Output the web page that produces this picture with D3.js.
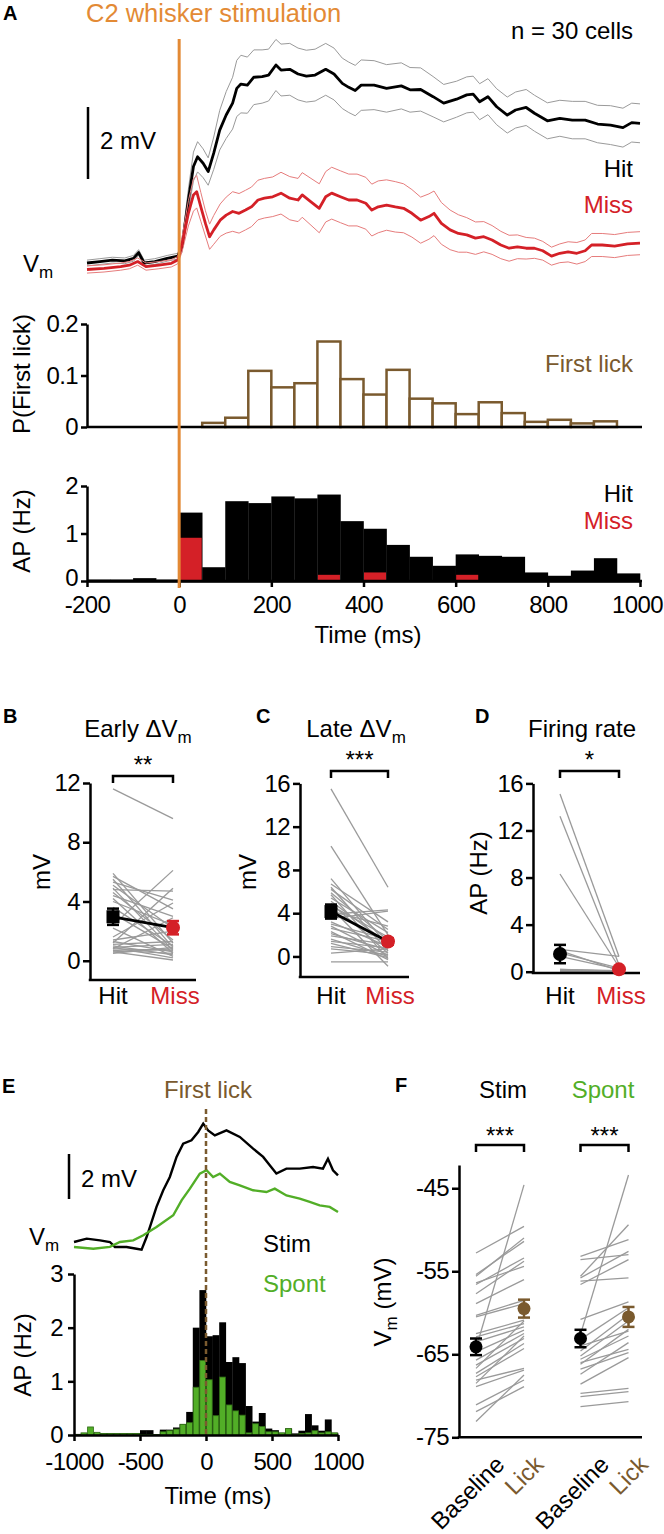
<!DOCTYPE html>
<html><head><meta charset="utf-8">
<script src="https://cdn.jsdelivr.net/npm/d3@7"></script>
<style>
body{margin:0;background:#fff}
svg{display:block;font-family:"Liberation Sans",Arial,Helvetica,sans-serif}
</style></head><body>
<svg id="fig" width="664" height="1534"></svg>
<script>
// ---------------- DATA ----------------
// Panel A: Vm traces (time ms, mV relative to baseline, SEM)
const hitT = [-200,-172,-145,-118,-99,-88,-76,-53,-26,-3,6,20,31,40,52,63,75,88,102,116,125,134,148,162,180,194,210,221,240,258,276,295,318,336,354,368,382,395,423,450,482,501,524,551,574,602,624,638,652,670,689,712,730,753,771,799,826,853,881,908,936,963,982,1000];
const hitV = [0,0.04,0.08,0.06,0.13,0.29,0,0.04,0.13,0.19,0.45,1.75,2.68,2.95,2.77,2.54,3.05,3.69,4.11,4.44,4.85,4.97,4.94,5.16,5.18,5.22,5.5,5.36,5.38,5.25,5.19,5.22,5.38,5.25,4.99,4.88,4.79,4.94,4.94,4.85,4.92,4.81,4.82,4.62,4.44,4.55,4.67,4.69,4.48,4.62,4.34,4.11,4.25,4.32,4.16,3.95,4.02,3.97,3.97,3.86,3.83,3.76,3.9,3.88];
const hitSem = [0.08,0.08,0.08,0.08,0.08,0.08,0.08,0.08,0.08,0.08,0.15,0.3,0.4,0.42,0.4,0.38,0.45,0.55,0.65,0.72,0.78,0.8,0.78,0.76,0.74,0.72,0.71,0.72,0.72,0.72,0.72,0.72,0.72,0.72,0.7,0.7,0.7,0.7,0.68,0.66,0.64,0.62,0.6,0.56,0.52,0.5,0.5,0.5,0.5,0.5,0.5,0.5,0.5,0.5,0.5,0.5,0.5,0.52,0.52,0.52,0.54,0.54,0.54,0.54];
const missT = [-200,-163,-127,-108,-90,-72,-44,-17,-3,6,20,31,38,47,57,66,75,89,102,116,130,144,157,171,185,203,221,240,258,267,286,304,318,331,350,368,386,405,418,432,450,469,487,505,524,542,553,569,588,606,624,643,661,679,698,716,734,753,771,789,808,826,844,863,881,895,918,945,973,1000];
const missV = [-0.18,-0.15,-0.1,-0.06,0.04,-0.1,-0.06,-0.01,0.08,0.5,1.38,1.89,1.98,1.56,1.1,0.73,0.92,1.19,1.33,1.43,1.38,1.47,1.56,1.75,1.8,1.84,1.94,1.8,1.75,1.89,1.7,1.52,1.84,1.94,1.84,1.75,1.75,1.66,1.47,1.56,1.61,1.56,1.52,1.38,1.19,1.29,1.38,1.1,0.92,0.82,0.78,0.69,0.73,0.64,0.5,0.41,0.45,0.41,0.41,0.34,0.19,0.27,0.31,0.27,0.34,0.5,0.5,0.47,0.53,0.55];
const missSem = [0.1,0.1,0.1,0.1,0.1,0.1,0.1,0.1,0.1,0.2,0.35,0.45,0.45,0.4,0.35,0.35,0.4,0.45,0.5,0.55,0.55,0.55,0.55,0.55,0.55,0.55,0.58,0.6,0.6,0.62,0.65,0.68,0.7,0.72,0.72,0.72,0.72,0.72,0.72,0.72,0.7,0.7,0.68,0.66,0.64,0.63,0.62,0.58,0.55,0.52,0.48,0.45,0.42,0.4,0.38,0.36,0.33,0.3,0.28,0.26,0.25,0.26,0.28,0.3,0.3,0.32,0.32,0.32,0.32,0.32];

// Panel A: first-lick probability (bin start ms) and AP rate histograms
const lickBins = [50,100,150,200,250,300,350,400,450,500,550,600,650,700,750,800,850,900];
const lickP = [0.008,0.018,0.109,0.077,0.085,0.166,0.093,0.063,0.111,0.055,0.046,0.025,0.048,0.027,0.010,0.014,0.007,0.011];
const apBinsA = [-200,-150,-100,-50,0,50,100,150,200,250,300,350,400,450,500,550,600,650,700,750,800,850,900,950];
const hitAP = [0.03,0.03,0.06,0.03,1.44,0.29,1.68,1.64,1.78,1.74,1.82,1.26,1.10,0.76,0.51,0.32,0.56,0.53,0.51,0.18,0.11,0.22,0.48,0.16];
const missAP = [0,0,0,0,0.91,0,0,0,0,0,0.13,0,0.18,0,0,0,0.13,0,0,0,0,0,0,0];
const timeTicksA = [-200,0,200,400,600,800,1000];
const lickTicks = [0,0.1,0.2];
const apTicksA = [0,1,2];

// Panels B-D: per-cell values (Hit, Miss) and means
const groups = ['Hit','Miss'];
const earlyHit  = [11.6,5.9,5.7,5.5,5.3,5.1,4.9,4.8,4.6,4.4,4.2,4.0,3.6,3.2,2.4,2.2,1.6,1.4,1.3,1.2,1.1,1.0,0.9,0.9,0.8,0.8,0.7,0.6,0.6,0.5];
const earlyMiss = [9.6,1.2,3.5,0.9,4.1,2.2,0.7,4.7,1.4,3.0,0.5,2.4,1.0,0.8,6.1,0.3,3.9,2.0,0.6,4.9,1.3,0.4,1.1,0.2,0.7,2.9,0.5,0.05,0.8,0.9];
const earlyMean = [2.97,2.23], earlySem = [0.55,0.45];
const lateHit  = [15.5,10.2,7.2,6.7,6.4,6.2,5.9,5.7,5.4,5.1,4.9,4.7,4.5,4.2,3.9,3.5,3.2,3.0,2.8,2.6,2.3,2.1,1.9,1.6,1.4,1.2,0.9,0.7,0.3,-0.5];
const lateMiss = [6.4,2.0,1.0,3.2,0.5,2.5,1.5,-0.2,2.2,1.2,0.3,1.8,-0.9,2.8,4.3,4.2,0.9,1.6,0.1,1.4,-0.3,0.6,1.1,0.0,0.8,-0.1,0.4,0.2,0.7,-0.5];
const lateMean = [4.15,1.38], lateSem = [0.65,0.3];
const frHit  = [15.1,13.2,8.3,1.9,1.8,1.6,1.3,0.2,0.2,0.15,0.15,0.1,0.1,0.1,0.1,0.1,0.05,0.05,0.05,0.05,0.05,0.05,0,0,0,0,0,0,0,0];
const frMiss = [1.3,0.6,0.4,1.3,0.1,0.3,0.2,0.05,0.1,0,0.05,0,0,0.05,0,0,0,0.05,0,0,0,0,0,0,0,0,0,0,0,0];
const frMean = [1.5,0.2], frSem = [0.78,0.1];
const earlyTicks = [0,4,8,12], lateTicks = [0,4,8,12,16], frTicks = [0,4,8,12,16];

// Panel E: Vm aligned to first lick, AP histograms
const stimT = [-1000,-904,-803,-728,-690,-602,-526,-488,-450,-412,-375,-324,-274,-223,-173,-110,-59,-21,16,67,155,256,357,433,483,533,609,710,811,886,924,962,1000];
const stimV = [0,0.15,0.07,0,-0.22,-0.22,-0.3,-0.34,0.22,0.89,1.56,2.3,2.89,3.78,4.37,4.52,4.89,5.26,4.96,4.74,4.96,4.67,4.15,3.78,3.41,3.04,3.26,3.26,3.33,3.26,3.7,3.19,2.96];
const spontT = [-1000,-854,-728,-652,-551,-475,-375,-248,-185,-122,-47,4,54,105,180,256,357,458,521,609,710,786,861,937,1000];
const spontV = [-0.22,-0.3,-0.22,0,0.07,0.3,0.67,1.19,1.85,2.37,3.04,3.19,2.89,3.04,2.67,2.52,2.3,2.22,2.37,2.07,1.93,1.78,1.63,1.56,1.33];
const apBinsE = d3.range(-1000, 1000, 50);
const stimAP  = [0.02,0.02,0.03,0.03,0.03,0.03,0.03,0.03,0.03,0.03,0.09,0.09,0.01,0.1,0.1,0.14,0.2,0.43,2.0,2.7,1.84,1.86,2.1,1.36,1.45,1.34,0.54,0.25,0.41,0.12,0.09,0.04,0.12,0.03,0.08,0.39,0.18,0.08,0.29,0.04];
const spontAP = [0.01,0.04,0.15,0.05,0.03,0.03,0.03,0.03,0.03,0.03,0.01,0.01,0.01,0.06,0.08,0.11,0.2,0.23,0.89,1.39,1.03,0.36,1.08,0.56,0.45,0.37,0.04,0.21,0.16,0.06,0.06,0.04,0.12,0.01,0.03,0.04,0.08,0.04,0.06,0.04];
const timeTicksE = [-1000,-500,0,500,1000];
const apTicksE = [0,1,2,3];

// Panel F: Vm baseline vs lick
const condF = ['Stim','Spont'], epochF = ['Baseline','Lick'];
const stimBase = [-52.8,-55.4,-55.6,-56.4,-56.6,-57.7,-58.9,-60.3,-60.5,-62.5,-62.9,-63.5,-64.3,-64.7,-65.7,-66.3,-66.7,-67.3,-67.7,-68.1,-68.5,-68.9,-71.1,-71.9,-73.1];
const stimLick = [-49.6,-51.4,-51.0,-54.4,-53.4,-53.8,-56.0,-58.5,-58.9,-60.9,-61.3,-61.7,-44.6,-62.1,-62.5,-63.1,-61.0,-63.7,-64.3,-66.7,-62.8,-66.9,-68.1,-68.9,-67.5];
const spontBase = [-53.2,-53.6,-55.6,-55.8,-56.2,-56.6,-60.8,-62.6,-63.2,-64.0,-64.6,-65.2,-65.6,-66.0,-66.2,-66.8,-67.4,-68.6,-69.7,-70.1,-71.3];
const spontLick = [-51.2,-53.0,-49.4,-52.6,-55.8,-53.6,-58.7,-43.4,-59.4,-62.2,-60.2,-61.0,-62.8,-64.4,-62.0,-64.8,-63.6,-65.4,-69.1,-69.5,-70.7];
const fMean = {Stim:[-64.1,-59.5], Spont:[-63.1,-60.5]};
const fSem  = {Stim:[1.0,1.08], Spont:[1.05,1.2]};
const fTicks = [-45,-55,-65,-75];

// ---------------- STYLE ----------------
const FONT = '"Liberation Sans", Arial, Helvetica, sans-serif';
const COL = {orange:'#e38a35', red:'#d42027', brown:'#7a5a2e', green:'#52ae27', greenDark:'#2e6a14', gray:'#9a9a9a', semGray:'#9a9a9a', semRed:'#e67c7c'};
const AXW = 2.5;
const svg = d3.select('#fig');

function label(x, y, parts, o = {}) {
  const t = svg.append('text').attr('x', x).attr('y', y)
    .attr('font-size', o.size || 24).attr('fill', o.color || '#000')
    .attr('font-weight', o.weight || 'normal').attr('text-anchor', o.anchor || 'start')
    .attr('font-family', FONT);
  if (o.rotate != null) t.attr('transform', `rotate(${o.rotate},${x},${y})`);
  if (typeof parts === 'string') { t.text(parts); return t; }
  let sub = false;
  parts.forEach(p => {
    if (typeof p === 'string') {
      t.append('tspan').attr('dy', sub ? -6 : 0).text(p); sub = false;
    } else {
      t.append('tspan').attr('dy', 6).attr('font-size', 17).text(p.sub); sub = true;
    }
  });
  return t;
}
function styleAxis(g) {
  g.attr('font-family', FONT).attr('font-size', 24);
  g.selectAll('.domain').attr('stroke', '#000').attr('stroke-width', AXW);
  g.selectAll('.tick line').attr('stroke', '#000').attr('stroke-width', AXW);
  g.selectAll('.tick text').attr('fill', '#000').attr('font-size', 24).attr('font-family', FONT).attr('letter-spacing', -0.6);
}
function hline(x1, x2, y, w = AXW, c = '#000') {
  svg.append('line').attr('x1', x1).attr('x2', x2).attr('y1', y).attr('y2', y).attr('stroke', c).attr('stroke-width', w);
}
function vline(x, y1, y2, w = AXW, c = '#000') {
  svg.append('line').attr('x1', x).attr('x2', x).attr('y1', y1).attr('y2', y2).attr('stroke', c).attr('stroke-width', w);
}
const fmt = d => String(d);

// ---------------- PANEL A ----------------
const xA = d3.scaleLinear().domain([-200, 1000]).range([87, 640]);
const yV = d3.scaleLinear().domain([0, 5]).range([263, 83]);
const lineA = d3.line().x(d => xA(d[0])).y(d => yV(d[1]));
const tr = (T, V, S, k) => T.map((t, i) => [t, V[i] + (S ? k * S[i] : 0)]);

[1, -1].forEach(k => svg.append('path').attr('d', lineA(tr(hitT, hitV, hitSem, k)))
  .attr('fill', 'none').attr('stroke', COL.semGray).attr('stroke-width', 1));
svg.append('path').attr('d', lineA(tr(hitT, hitV))).attr('fill', 'none').attr('stroke', '#000').attr('stroke-width', 2.8).attr('stroke-linejoin', 'round');
[1, -1].forEach(k => svg.append('path').attr('d', lineA(tr(missT, missV, missSem, k)))
  .attr('fill', 'none').attr('stroke', COL.semRed).attr('stroke-width', 1));
svg.append('path').attr('d', lineA(tr(missT, missV))).attr('fill', 'none').attr('stroke', COL.red).attr('stroke-width', 2.8).attr('stroke-linejoin', 'round');

// scale bar 2 mV
vline(88, 107, 107 + (yV(0) - yV(2)));
label(100, 149, '2 mV');
label(23, 272, ['V', {sub: 'm'}]);
label(633, 177, 'Hit', {anchor: 'end'});
label(633, 213, 'Miss', {anchor: 'end', color: COL.red});
label(633, 39, 'n = 30 cells', {anchor: 'end'});
label(86, 22, 'C2 whisker stimulation', {color: COL.orange, size: 25.5});
label(3, 20, 'A', {weight: 'bold', size: 20});

// First-lick histogram
const yL = d3.scaleLinear().domain([0, 0.2]).range([427, 324]);
svg.append('g').selectAll('rect').data(lickBins).join('rect')
  .attr('x', d => xA(d)).attr('width', d => xA(d + 50) - xA(d))
  .attr('y', (d, i) => yL(lickP[i])).attr('height', (d, i) => yL(0) - yL(lickP[i]))
  .attr('fill', '#fff').attr('stroke', COL.brown).attr('stroke-width', 2.5);
hline(87, 642, 427);
styleAxis(svg.append('g').attr('transform', 'translate(87,0)')
  .call(d3.axisLeft(yL).tickValues(lickTicks).tickSize(6).tickPadding(3).tickSizeOuter(0).tickFormat(fmt)));
label(30, 374, 'P(First lick)', {anchor: 'middle', rotate: -90});
label(633, 372, 'First lick', {anchor: 'end', color: COL.brown});

// AP histogram A
const yA = d3.scaleLinear().domain([0, 2]).range([581, 486]);
svg.append('g').selectAll('rect').data(apBinsA).join('rect')
  .attr('x', d => xA(d)).attr('width', d => xA(d + 50) - xA(d) + 0.3)
  .attr('y', (d, i) => yA(hitAP[i])).attr('height', (d, i) => yA(0) - yA(hitAP[i]))
  .attr('fill', '#000');
svg.append('g').selectAll('rect').data(apBinsA.filter((d, i) => missAP[i] > 0)).join('rect')
  .attr('x', d => xA(d) + 0.5).attr('width', d => xA(d + 50) - xA(d) - 1)
  .attr('y', d => yA(missAP[apBinsA.indexOf(d)])).attr('height', d => yA(0) - yA(missAP[apBinsA.indexOf(d)]))
  .attr('fill', COL.red);
const gxA = svg.append('g').attr('transform', 'translate(0,581)')
  .call(d3.axisBottom(xA).tickValues(timeTicksA).tickSize(6).tickPadding(9).tickSizeOuter(0).tickFormat(fmt));
styleAxis(gxA);
gxA.selectAll('.tick text').filter(d => d === 1000).attr('dx', -3);
hline(87, 642, 581);
const gyA = svg.append('g').attr('transform', 'translate(87,0)')
  .call(d3.axisLeft(yA).tickValues(apTicksA).tickSize(6).tickPadding(3).tickSizeOuter(0).tickFormat(fmt));
styleAxis(gyA);
gyA.selectAll('.tick text').filter(d => d === 0).attr('dy', '0.2em');
label(30, 531, 'AP (Hz)', {anchor: 'middle', rotate: -90});
label(633, 502, 'Hit', {anchor: 'end'});
label(633, 529, 'Miss', {anchor: 'end', color: COL.red});
label(368, 643, 'Time (ms)', {anchor: 'middle'});

// stimulus line
vline(xA(0), 39, 588, 3, COL.orange);

// ---------------- PANELS B-D ----------------
function pairPanel(o) {
  const x = d3.scalePoint().domain(groups).range(o.xr);
  const y = d3.scaleLinear().domain(o.yd).range(o.yr);
  svg.append('g').selectAll('line').data(o.hit).join('line')
    .attr('x1', x('Hit')).attr('x2', x('Miss'))
    .attr('y1', d => y(d)).attr('y2', (d, i) => y(o.miss[i]))
    .attr('stroke', COL.gray).attr('stroke-width', 1.3);
  styleAxis(svg.append('g').attr('transform', `translate(${o.ax},0)`)
    .call(d3.axisLeft(y).tickValues(o.ticks).tickSize(7).tickPadding(3).tickSizeOuter(0).tickFormat(fmt)));
  hline(o.ax - 1.25, o.xEnd, y(o.yd[0]));
  if (o.connect) svg.append('line').attr('x1', x('Hit')).attr('x2', x('Miss'))
    .attr('y1', y(o.mean[0])).attr('y2', y(o.mean[1])).attr('stroke', '#000').attr('stroke-width', 2.8);
  groups.forEach((g, i) => {
    const cx = x(g), cy = y(o.mean[i]), e1 = y(o.mean[i] + o.sem[i]), e2 = y(o.mean[i] - o.sem[i]);
    const c = i === 0 ? '#000' : COL.red;
    vline(cx, e1, e2, 2.5, c); hline(cx - 6, cx + 6, e1, 2.5, c); hline(cx - 6, cx + 6, e2, 2.5, c);
    if (i === 0 && o.square) svg.append('rect').attr('x', cx - 6.5).attr('y', cy - 6.5).attr('width', 13).attr('height', 13).attr('fill', c);
    else svg.append('circle').attr('cx', cx).attr('cy', cy).attr('r', 7).attr('fill', c);
  });
  // bracket
  const bx1 = x('Hit'), bx2 = x('Miss');
  svg.append('path').attr('d', `M${bx1},${o.br + 7}V${o.br}H${bx2}V${o.br + 7}`)
    .attr('fill', 'none').attr('stroke', '#000').attr('stroke-width', 2.5);
  label((bx1 + bx2) / 2, o.starY, o.stars, {anchor: 'middle', size: 24});
  label(x('Hit'), 1004, 'Hit', {anchor: 'middle'});
  label(x('Miss') + 2, 1004, 'Miss', {anchor: 'middle', color: COL.red});
}
pairPanel({ax: 90, xr: [113, 173], yd: [-1.3, 12], yr: [980, 783], ticks: earlyTicks, hit: earlyHit, miss: earlyMiss,
  mean: earlyMean, sem: earlySem, square: true, connect: true, xEnd: 196, br: 776, starY: 773, stars: '**'});
pairPanel({ax: 300, xr: [331, 388], yd: [-1.9, 16], yr: [977, 783.4], ticks: lateTicks, hit: lateHit, miss: lateMiss,
  mean: lateMean, sem: lateSem, square: true, connect: true, xEnd: 409, br: 771, starY: 768, stars: '***'});
pairPanel({ax: 533, xr: [560, 619], yd: [-0.11, 16], yr: [973, 783.4], ticks: frTicks, hit: frHit, miss: frMiss,
  mean: frMean, sem: frSem, square: false, connect: false, xEnd: 640, br: 771, starY: 768, stars: '*'});

label(3, 723, 'B', {weight: 'bold', size: 20});
label(256, 723, 'C', {weight: 'bold', size: 20});
label(475, 723, 'D', {weight: 'bold', size: 20});
label(138, 737, ['Early \u0394V', {sub: 'm'}], {anchor: 'middle'});
label(356, 737, ['Late \u0394V', {sub: 'm'}], {anchor: 'middle'});
label(582, 737, 'Firing rate', {anchor: 'middle'});
label(50, 872, 'mV', {anchor: 'middle', rotate: -90});
label(256, 872, 'mV', {anchor: 'middle', rotate: -90});
label(487, 873, 'AP (Hz)', {anchor: 'middle', rotate: -90});

// ---------------- PANEL E ----------------
const xE = d3.scaleLinear().domain([-1000, 1000]).range([74, 338]);
const yEA = d3.scaleLinear().domain([0, 3]).range([1435, 1274]);
const yEV = d3.scaleLinear().domain([0, 2]).range([1242, 1197]);
const bw = xE(-950) - xE(-1000);
svg.append('g').selectAll('rect').data(apBinsE).join('rect')
  .attr('x', d => xE(d)).attr('width', bw + 0.3)
  .attr('y', (d, i) => yEA(stimAP[i])).attr('height', (d, i) => yEA(0) - yEA(stimAP[i])).attr('fill', '#000');
svg.append('g').selectAll('rect').data(apBinsE).join('rect')
  .attr('x', d => xE(d) + 0.4).attr('width', bw - 0.8)
  .attr('y', (d, i) => yEA(spontAP[i])).attr('height', (d, i) => yEA(0) - yEA(spontAP[i]))
  .attr('fill', COL.green).attr('stroke', COL.greenDark).attr('stroke-width', 0.8);
styleAxis(svg.append('g').attr('transform', 'translate(0,1435)')
  .call(d3.axisBottom(xE).tickValues(timeTicksE).tickSize(6).tickPadding(12).tickSizeOuter(0).tickFormat(fmt)));
styleAxis(svg.append('g').attr('transform', 'translate(74,0)')
  .call(d3.axisLeft(yEA).tickValues(apTicksE).tickSize(6).tickPadding(5).tickSizeOuter(0).tickFormat(fmt)));
const lineE = d3.line().x(d => xE(d[0])).y(d => yEV(d[1]));
svg.append('path').attr('d', lineE(stimT.map((t, i) => [t, stimV[i]]))).attr('fill', 'none').attr('stroke', '#000').attr('stroke-width', 2.4);
svg.append('path').attr('d', lineE(spontT.map((t, i) => [t, spontV[i]]))).attr('fill', 'none').attr('stroke', COL.green).attr('stroke-width', 2.4);
svg.append('line').attr('x1', xE(0)).attr('x2', xE(0)).attr('y1', 1109).attr('y2', 1435)
  .attr('stroke', COL.brown).attr('stroke-width', 2.5).attr('stroke-dasharray', '5,3');
vline(69, 1154, 1154 + (yEV(0) - yEV(2)));
label(81, 1187, '2 mV');
label(29, 1245, ['V', {sub: 'm'}]);
label(263, 1252, 'Stim');
label(263, 1292, 'Spont', {color: COL.green});
label(208, 1098, 'First lick', {anchor: 'middle', color: COL.brown});
label(31, 1355, 'AP (Hz)', {anchor: 'middle', rotate: -90});
label(218, 1504, 'Time (ms)', {anchor: 'middle'});
label(2, 1093, 'E', {weight: 'bold', size: 20});

// ---------------- PANEL F ----------------
const xF = d3.scalePoint().domain(condF).range([500, 604.5]);
const xIn = d3.scalePoint().domain(epochF).range([-24, 24]);
const yF = d3.scaleLinear().domain([-75, -42.2]).range([1437.3, 1165]);
const fData = {Stim: [stimBase, stimLick], Spont: [spontBase, spontLick]};
condF.forEach(c => {
  const [b, l] = fData[c];
  svg.append('g').selectAll('line').data(b).join('line')
    .attr('x1', xF(c) + xIn('Baseline')).attr('x2', xF(c) + xIn('Lick'))
    .attr('y1', d => yF(d)).attr('y2', (d, i) => yF(l[i]))
    .attr('stroke', COL.gray).attr('stroke-width', 1.3);
});
styleAxis(svg.append('g').attr('transform', 'translate(459,0)')
  .call(d3.axisLeft(yF).tickValues(fTicks).tickSize(7).tickPadding(3).tickSizeOuter(0).tickFormat(fmt)));
hline(457.75, 642, yF(-75));
condF.forEach(c => {
  epochF.forEach((e, i) => {
    const cx = xF(c) + xIn(e), m = fMean[c][i], s = fSem[c][i];
    const col = i === 0 ? '#000' : COL.brown;
    const e1 = yF(m + s), e2 = yF(m - s);
    vline(cx, e1, e2, 2.5, col); hline(cx - 6, cx + 6, e1, 2.5, col); hline(cx - 6, cx + 6, e2, 2.5, col);
    svg.append('circle').attr('cx', cx).attr('cy', yF(m)).attr('r', 6.5).attr('fill', col);
    label(cx + (i === 0 ? 30 : 21), 1466, e, {anchor: 'end', rotate: -45, color: col});
  });
  const bx1 = xF(c) + xIn('Baseline'), bx2 = xF(c) + xIn('Lick');
  svg.append('path').attr('d', `M${bx1},1152V1145H${bx2}V1152`).attr('fill', 'none').attr('stroke', '#000').attr('stroke-width', 2.5);
  label((bx1 + bx2) / 2, 1144, '***', {anchor: 'middle'});
});
label(503, 1098, 'Stim', {anchor: 'middle'});
label(603, 1098, 'Spont', {anchor: 'middle', color: COL.green});
label(391, 1302, ['V', {sub: 'm'}, ' (mV)'], {anchor: 'middle', rotate: -90});
label(395, 1092, 'F', {weight: 'bold', size: 20});
</script>
</body></html>
